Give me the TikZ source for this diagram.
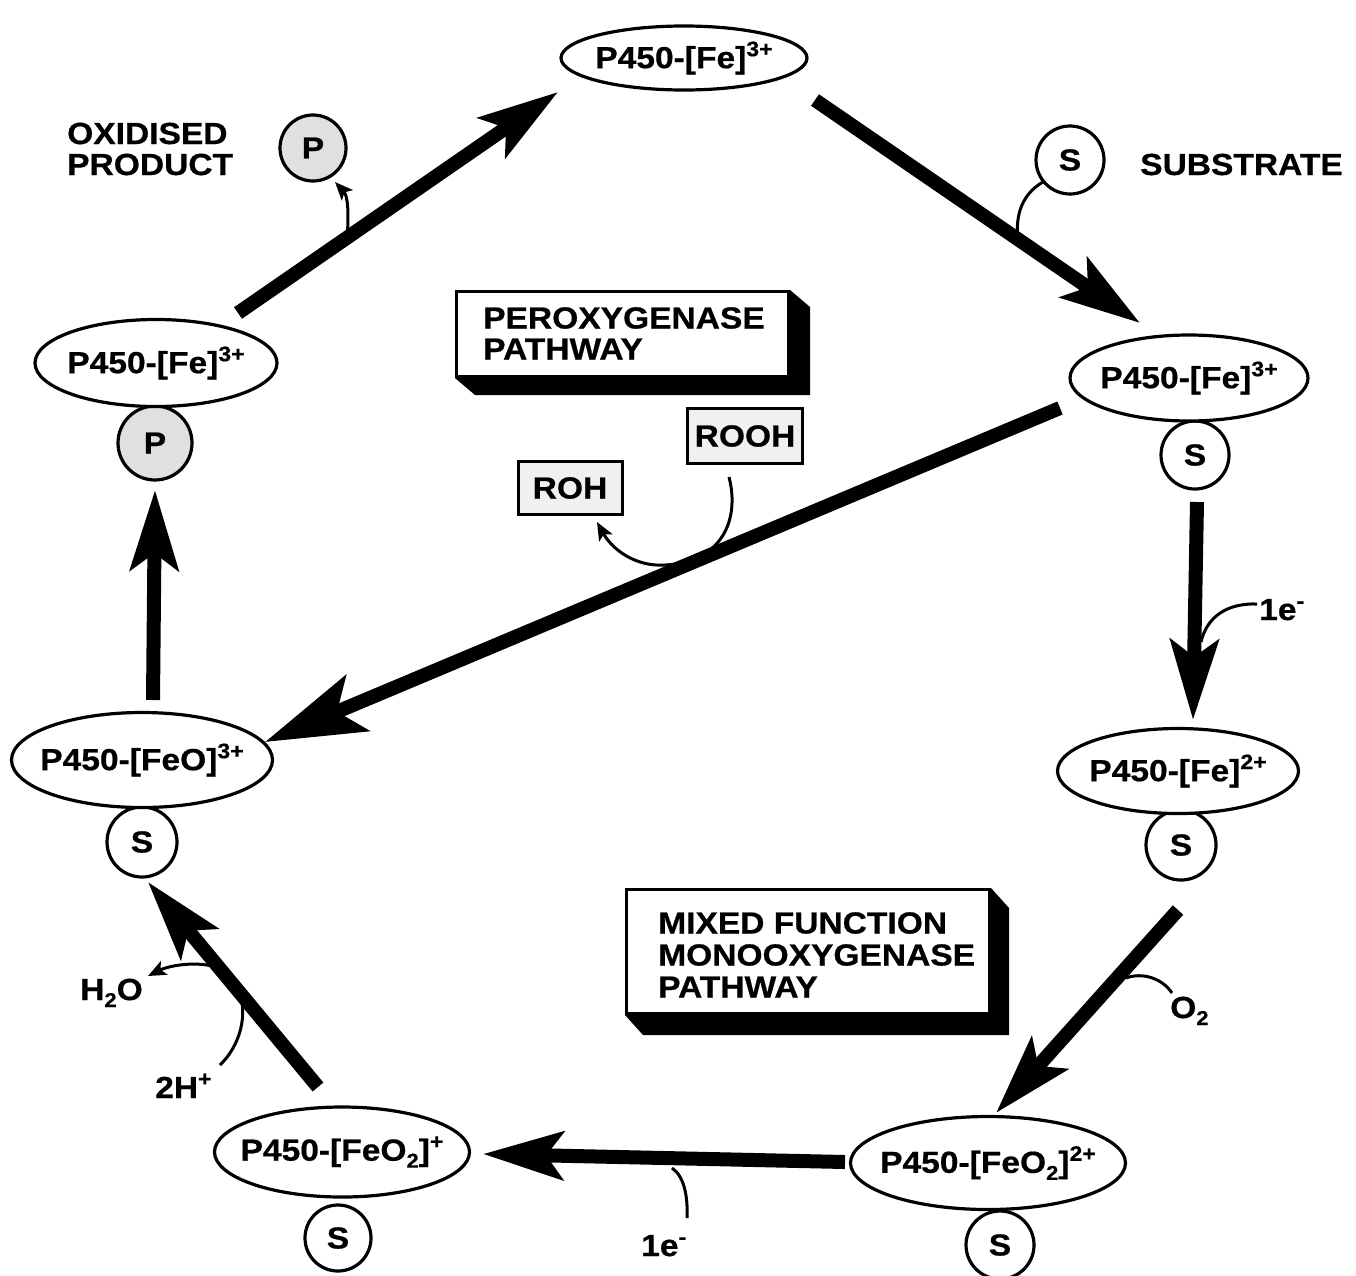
\documentclass[tikz,border=0pt]{standalone}
\usepackage{fontspec}
\setmainfont{Liberation Sans}[FakeStretch=1.1, BoldFeatures={FakeBold=0.6}]
\usetikzlibrary{arrows.meta,shapes.geometric,calc}

% small raised / lowered indices for the chemical labels
\newcommand\chsup[1]{\raisebox{12pt}{\fontsize{21}{21}\selectfont #1}}
\newcommand\chsub[1]{\raisebox{-7pt}{\fontsize{20}{20}\selectfont #1}}
\newcommand\ctr[1]{\makebox[0pt]{#1}}

\tikzset{
  lbl/.style={font=\fontsize{30.5}{32}\selectfont\bfseries, inner sep=0pt},
  state/.style={lbl, ellipse, draw, line width=3.2pt, fill=white},
  subst/.style={lbl, circle, draw, line width=3.2pt, inner sep=0pt, fill=white},
  prod/.style={subst, fill=black!12},
  pbox/.style={draw, line width=3pt, fill=white, inner sep=0pt},
  gbox/.style={lbl, draw, line width=3pt, fill=black!6},
  bigarrow/.style={line width=14pt, -{Stealth[length=80pt,width=48pt,inset=17pt]}},
  hugearrow/.style={line width=14pt, -{Stealth[length=100pt,width=60pt,inset=22pt]}},
  side/.style={line width=3pt},
  sidearrow/.style={line width=3pt, -{Stealth[length=18pt,width=15pt,inset=4pt]}},
  shadow/.style={fill=black},
}

\begin{document}
\begin{tikzpicture}[x=1pt,y=-1pt]
\useasboundingbox (0,0) rectangle (1356,1275);

% ---------- states of the cycle ----------
\node[state, minimum width=246pt, minimum height=64pt] (fe3) at (684,58) {\ctr{P450-[Fe]\chsup{3+}}};

\node[subst, minimum size=68pt] (s1) at (1195,455) {S};
\node[state, minimum width=238pt, minimum height=86pt] (fe3s) at (1189,378) {\ctr{P450-[Fe]\chsup{3+}}};

\node[subst, minimum size=70pt] (s2) at (1181,845) {S};
\node[state, minimum width=241pt, minimum height=85pt] (fe2s) at (1178,771) {\ctr{P450-[Fe]\chsup{2+}}};

\node[subst, minimum size=68pt] (s3) at (1000,1245) {S};
\node[state, minimum width=275pt, minimum height=93pt] (feo2a) at (988,1163) {\ctr{P450-[FeO\chsub{2}]\chsup{2+}}};

\node[subst, minimum size=66pt] (s4) at (338,1238) {S};
\node[state, minimum width=255pt, minimum height=90pt] (feo2b) at (342,1152) {\ctr{P450-[FeO\chsub{2}]\chsup{+}}};

\node[subst, minimum size=70pt] (s5) at (142,842) {S};
\node[state, minimum width=261pt, minimum height=95pt] (feo) at (142,760) {\ctr{P450-[FeO]\chsup{3+}}};

\node[prod, minimum size=74pt] (p1) at (155,443) {P};
\node[state, minimum width=242pt, minimum height=87pt] (fe3p) at (156,363) {\ctr{P450-[Fe]\chsup{3+}}};

% ---------- free substrate and product ----------
\node[subst, minimum size=68pt] (sin) at (1070,160) {S};
\node[lbl, anchor=base west] (sublbl) at (1140,175) {SUBSTRATE};
\node[prod, minimum size=66pt] (pout) at (313,148) {P};
\node[lbl, anchor=base west] (oxlbl) at (67,144) {OXIDISED};
\node[lbl, anchor=base west] (prlbl) at (67,175) {PRODUCT};

% ---------- pathway boxes ----------
\node[pbox, minimum width=332pt, minimum height=85pt, anchor=north west] (perbox) at (455,290) {};
\fill[shadow] (perbox.south west) -- ++(20,17) -- ($(perbox.south east)+(20,17)$)
  -- ($(perbox.north east)+(20,17)$) -- (perbox.north east) -- (perbox.south east) -- cycle;
\node[lbl, align=left, anchor=north west] (pertxt) at (483,307) {PEROXYGENASE\\[-1pt]PATHWAY};

\node[pbox, minimum width=363pt, minimum height=124pt, anchor=north west] (monobox) at (625,888) {};
\fill[shadow] (monobox.south west) -- ++(18,20) -- ($(monobox.south east)+(18,20)$)
  -- ($(monobox.north east)+(18,20)$) -- (monobox.north east) -- (monobox.south east) -- cycle;
\node[lbl, align=left, anchor=north west] (monotxt) at (658,912) {MIXED FUNCTION\\MONOOXYGENASE\\PATHWAY};

\node[gbox, minimum width=115pt, minimum height=55pt] (rooh) at (745,436) {ROOH};
\node[gbox, minimum width=104pt, minimum height=53pt] (roh) at (570,488) {ROH};

% ---------- small labels ----------
\node[lbl, anchor=base west] (e1) at (1259,620) {1e\chsup{-}};
\node[lbl, anchor=base west] (o2) at (1170,1018) {O\chsub{2}};
\node[lbl, anchor=base west] (e2) at (641,1256) {1e\chsup{-}};
\node[lbl, anchor=base west] (h2o) at (80,1000) {H\chsub{2}O};
\node[lbl, anchor=base west] (hplus) at (155,1098) {2H\chsup{+}};

% ---------- main arrows ----------
\coordinate (a1s) at (238,313);  \coordinate (a1e) at (558,92);
\coordinate (a2s) at (815,100);  \coordinate (a2e) at (1140,323);
\coordinate (a3s) at (1197,502); \coordinate (a3e) at (1193,720);
\coordinate (a4s) at (1178,910); \coordinate (a4e) at (996,1113);
\coordinate (a5s) at (845,1162); \coordinate (a5e) at (483,1154);
\coordinate (a6s) at (318,1087); \coordinate (a6e) at (148,882);
\coordinate (a7s) at (153,700);  \coordinate (a7e) at (155,490);
\coordinate (a8s) at (1060,408); \coordinate (a8e) at (265,742);

\draw[bigarrow] (a1s) -- (a1e);
\draw[bigarrow] (a2s) -- (a2e);
\draw[bigarrow] (a3s) -- (a3e);
\draw[bigarrow] (a4s) -- (a4e);
\draw[bigarrow] (a5s) -- (a5e);
\draw[bigarrow] (a6s) -- (a6e);
\draw[bigarrow] (a7s) -- (a7e);
\draw[hugearrow] (a8s) -- (a8e);

% ---------- side reactions ----------
\draw[sidearrow] (347,238) .. controls (349,215) and (348,196) .. (335,182);
\draw[side] (1043,182) .. controls (1022,194) and (1015,215) .. (1018,240);
\draw[side] (1257,604) .. controls (1228,603) and (1207,616) .. (1201,642);
\draw[side] (1126,978) .. controls (1142,972) and (1162,978) .. (1172,993);
\draw[side] (672,1168) .. controls (684,1176) and (688,1196) .. (687,1218);
\draw[sidearrow] (220,1065) .. controls (254,1032) and (250,972) .. (207,965)
  .. controls (186,962) and (166,967) .. (148,976);
\draw[sidearrow] (729,477) .. controls (740,520) and (722,562) .. (665,565)
  .. controls (635,567) and (612,549) .. (597,522);
\end{tikzpicture}
\end{document}
